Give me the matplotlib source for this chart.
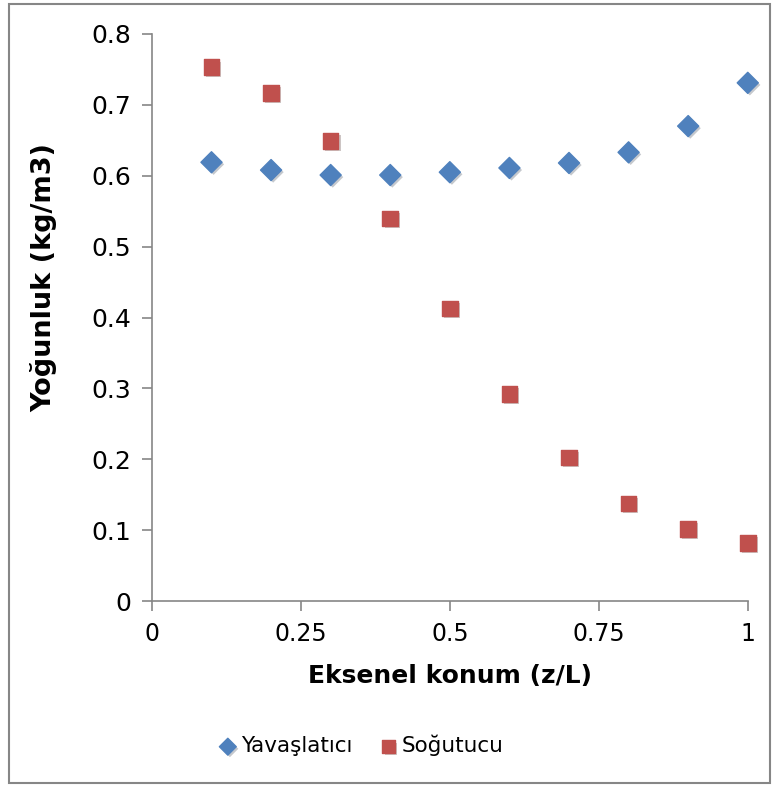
import matplotlib.pyplot as plt
import matplotlib.patheffects as pe
from matplotlib.patches import Rectangle

z = [0.1, 0.2, 0.3, 0.4, 0.5, 0.6, 0.7, 0.8, 0.9, 1.0]
yavaslatici = [0.619, 0.608, 0.601, 0.601, 0.605, 0.611, 0.618, 0.633, 0.670, 0.731]
sogutucu = [0.753, 0.717, 0.649, 0.540, 0.413, 0.292, 0.203, 0.138, 0.102, 0.082]

x_ticks = [0, 0.25, 0.5, 0.75, 1]
x_labels = ['0', '0.25', '0.5', '0.75', '1']
y_ticks = [0, 0.1, 0.2, 0.3, 0.4, 0.5, 0.6, 0.7, 0.8]
y_labels = ['0', '0.1', '0.2', '0.3', '0.4', '0.5', '0.6', '0.7', '0.8']

plt.rcParams['font.family'] = ['DejaVu Sans']

fig = plt.figure(figsize=(7.83, 7.89), dpi=100)
ax = fig.add_axes([0.194, 0.238, 0.761, 0.719])

shadow = [pe.SimplePatchShadow(offset=(1.5, -1.5), alpha=0.25), pe.Normal()]
ax.scatter(z, yavaslatici, marker='D', s=115, color='#4F81BD', label='Yavaşlatıcı',
           zorder=3, clip_on=False, path_effects=shadow)
ax.scatter(z, sogutucu, marker='s', s=125, color='#C0504D', label='Soğutucu',
           zorder=3, clip_on=False, path_effects=shadow)

ax.set_xlim(0, 1)
ax.set_ylim(0, 0.8)
ax.set_xticks(x_ticks, x_labels)
ax.set_yticks(y_ticks, y_labels)
ax.tick_params(color='#868686', length=7, width=1.2, pad=8)
ax.tick_params(axis='x', labelsize=17)
ax.tick_params(axis='y', labelsize=18)

for side in ['top', 'right']:
    ax.spines[side].set_visible(False)
for side in ['left', 'bottom']:
    ax.spines[side].set_color('#868686')
    ax.spines[side].set_linewidth(1.2)

ax.set_xlabel('Eksenel konum (z/L)', fontsize=18, fontweight='bold')
ax.xaxis.set_label_coords(0.5, -0.11)
ax.set_ylabel('Yoğunluk (kg/m3)', fontsize=19.5, fontweight='bold')
ax.yaxis.set_label_coords(-0.158, 0.57)

fig.legend(loc='center', bbox_to_anchor=(0.456, 0.055), ncol=2, frameon=False,
           fontsize=15.5, handletextpad=-0.2, columnspacing=0.9, markerscale=0.8,
           handlelength=1.6)

# chart border
fig.patches.append(Rectangle((0.011, 0.008), 0.973, 0.987, transform=fig.transFigure,
                             fill=False, edgecolor='#868686', linewidth=1.5))

plt.savefig('out.png', dpi=100)
